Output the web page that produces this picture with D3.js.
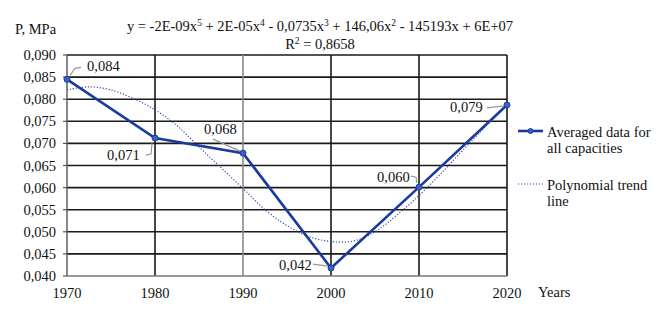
<!DOCTYPE html>
<html><head><meta charset="utf-8">
<script src="https://cdn.jsdelivr.net/npm/d3@7"></script>
<style>
@font-face { font-family: "ChartSerif"; src: local("Liberation Serif"), local("LiberationSerif"), local("LiberationSerif-Regular"); }
</style>
</head><body style="margin:0">
<svg id="c" width="659" height="319"></svg>
<script>
const years = [1970, 1980, 1990, 2000, 2010, 2020];
const avgValues = [0.0845, 0.0712, 0.0678, 0.0418, 0.0601, 0.0787];
const avgLabels = ["0,084", "0,071", "0,068", "0,042", "0,060", "0,079"];
const trendYears = [1970,1972.5,1975,1977.5,1980,1982.5,1985,1987.5,1990,1992.5,1995,1997.5,2000,2002.5,2005,2007.5,2010,2012.5,2015,2017.5,2020];
const trendValues = [0.0821,0.0828,0.0821,0.0802,0.0776,0.0740,0.0692,0.0645,0.0598,0.0550,0.0514,0.0489,0.0478,0.0479,0.0500,0.0538,0.0582,0.0632,0.0685,0.0737,0.0787];
const yTicks = [0.040,0.045,0.050,0.055,0.060,0.065,0.070,0.075,0.080,0.085,0.090];
const seriesNames = ["Averaged data for|all capacities", "Polynomial trend|line"];

const FS = 14.5;
const svg = d3.select("#c");
const L = 67, R = 507, T = 55, B = 276;
const x = d3.scaleLinear().domain([1970, 2020]).range([L, R]);
const y = d3.scaleLinear().domain([0.040, 0.090]).range([B, T]);
const fmt = v => d3.format(".3f")(v).replace(".", ",");
function txt(sel) {
  return sel.attr("font-size", FS)
    .style("font-family", "\"Liberation Serif\", ChartSerif, serif").attr("fill", "#111");
}

// horizontal grid
svg.append("g").selectAll("line").data(yTicks.slice(1)).join("line")
  .attr("x1", L).attr("x2", R).attr("y1", d => y(d)).attr("y2", d => y(d))
  .attr("stroke", "#1a1a1a").attr("stroke-width", 1.6);
// vertical grid
svg.append("g").selectAll("line").data(years.slice(1)).join("line")
  .attr("x1", d => x(d)).attr("x2", d => x(d)).attr("y1", T).attr("y2", B)
  .attr("stroke", d => d === 1990 ? "#8a8a8a" : "#1a1a1a").attr("stroke-width", 1.6);
// axes lines
svg.append("line").attr("x1", L).attr("x2", L).attr("y1", T).attr("y2", B).attr("stroke", "#555").attr("stroke-width", 1.4);
svg.append("line").attr("x1", L).attr("x2", R).attr("y1", B).attr("y2", B).attr("stroke", "#777").attr("stroke-width", 1.4);
svg.append("g").selectAll("line").data(yTicks).join("line")
  .attr("x1", L - 4).attr("x2", L).attr("y1", d => y(d)).attr("y2", d => y(d))
  .attr("stroke", "#555").attr("stroke-width", 1.2);

// y labels
txt(svg.append("g").selectAll("text").data(yTicks).join("text")
  .attr("x", 56).attr("y", d => y(d) + 5).attr("text-anchor", "end")).text(fmt);
// x labels
txt(svg.append("g").selectAll("text").data(years).join("text")
  .attr("x", d => x(d)).attr("y", 298).attr("text-anchor", "middle")).text(d => d);
txt(svg.append("text").attr("x", 538).attr("y", 297)).text("Years");
txt(svg.append("text").attr("x", 15).attr("y", 34)).text("P, MPa");

// equation
const eq = txt(svg.append("text").attr("x", 320).attr("y", 31).attr("text-anchor", "middle"));
const parts = [["y = -2E-09x",""],["5","s"],[" + 2E-05x",""],["4","s"],[" - 0,0735x",""],["3","s"],[" + 146,06x",""],["2","s"],[" - 145193x + 6E+07",""]];
parts.forEach((p, i) => {
  const t = eq.append("tspan").text(p[0]);
  if (p[1] === "s") t.attr("font-size", 9.5).attr("dy", -5);
  else t.attr("dy", i > 0 ? 5 : 0);
});
const r2 = txt(svg.append("text").attr("x", 320).attr("y", 49).attr("text-anchor", "middle"));
r2.append("tspan").text("R");
r2.append("tspan").text("2").attr("font-size", 9.5).attr("dy", -5);
r2.append("tspan").text(" = 0,8658").attr("dy", 5);

// trend line
const trendData = trendYears.map((d, i) => [d, trendValues[i]]);
svg.append("path").datum(trendData)
  .attr("d", d3.line().x(d => x(d[0])).y(d => y(d[1])).curve(d3.curveCatmullRom))
  .attr("fill", "none").attr("stroke", "#2c4fa8").attr("stroke-width", 1.2).attr("stroke-dasharray", "1.2,1.8");

// main line
const avgData = years.map((d, i) => [d, avgValues[i]]);
svg.append("path").datum(avgData)
  .attr("d", d3.line().x(d => x(d[0])).y(d => y(d[1])))
  .attr("fill", "none").attr("stroke", "#1a3a9e").attr("stroke-width", 2.6);
svg.append("g").selectAll("circle").data(avgData).join("circle")
  .attr("cx", d => x(d[0])).attr("cy", d => y(d[1])).attr("r", 3)
  .attr("fill", "#3d64c4").attr("stroke", "#1a3a9e").attr("stroke-width", 1);

// data labels with leader lines
const labelOffsets = [
  {dx: 20, dy: -8, lead: [[3,-4],[8,-11],[14,-12]]},
  {dx: -48, dy: 22, lead: [[-3,5],[-4,16],[-9,17]]},
  {dx: -39, dy: -19, lead: [[-3,-2],[-30,-14]]},
  {dx: -52, dy: 2, lead: [[-3,-2],[-18,-4]]},
  {dx: -42, dy: -5, lead: [[-2,-4],[-3,-10],[-8,-11]]},
  {dx: -57, dy: 7, lead: [[-3,1],[-20,3]]}
];
avgData.forEach((d, i) => {
  const px = x(d[0]), py = y(d[1]), o = labelOffsets[i];
  svg.append("path")
    .attr("d", d3.line()(o.lead.map(p => [px + p[0], py + p[1]])))
    .attr("fill", "none").attr("stroke", "#999").attr("stroke-width", 1.2);
  txt(svg.append("text").attr("x", px + o.dx).attr("y", py + o.dy)).text(avgLabels[i]);
});

// legend
const lg = svg.append("g");
lg.append("line").attr("x1", 518).attr("x2", 543).attr("y1", 131).attr("y2", 131).attr("stroke", "#1a3a9e").attr("stroke-width", 2.6);
lg.append("circle").attr("cx", 530.5).attr("cy", 131).attr("r", 2.5).attr("fill", "#3d64c4").attr("stroke", "#1a3a9e");
lg.append("line").attr("x1", 518).attr("x2", 543).attr("y1", 184).attr("y2", 184).attr("stroke", "#2c4fa8").attr("stroke-width", 1.2).attr("stroke-dasharray", "1.2,1.8");
[[137, 0], [190, 1]].forEach(([by, k]) => {
  seriesNames[k].split("|").forEach((s, j) => txt(lg.append("text").attr("x", 547).attr("y", by + j * 16)).text(s));
});
</script></body></html>
